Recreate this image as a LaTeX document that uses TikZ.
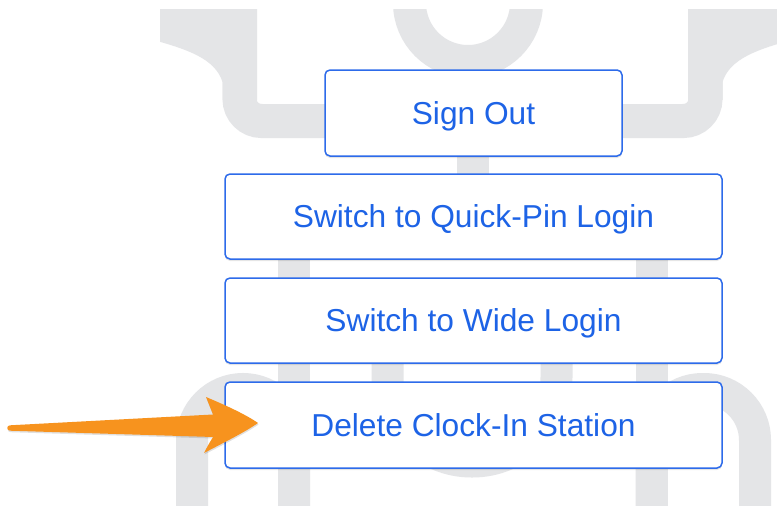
\documentclass[tikz,border=0pt]{standalone}
\usepackage{fontspec}
\setmainfont{Liberation Sans}
\usetikzlibrary{shadows}
\definecolor{patgray}{HTML}{E4E5E7}
\definecolor{btnblue}{HTML}{2D6BEA}
\definecolor{txtblue}{HTML}{1D63E6}
\definecolor{arroworange}{HTML}{F7931E}
\tikzset{
  pat/.style={draw=patgray, line width=34pt},
  patfill/.style={fill=patgray},
  btn/.style={draw=btnblue, line width=1.5pt, fill=white, rounded corners=5pt,
    text=txtblue, font=\fontsize{31.7}{38}\selectfont,
    text height=22.7pt, text depth=0pt, inner sep=0pt, outer sep=0pt,
    drop shadow={shadow xshift=0pt, shadow yshift=-2pt, opacity=0.10, fill=black}},
}
\begin{document}
\begin{tikzpicture}[x=1pt,y=-1pt]
\useasboundingbox (0,0) rectangle (777,506);
\fill[white] (0,0) rectangle (777,506);
% faded background pattern
\begin{scope}
\clip (160,9) rectangle (777,506);
% top-left hook
\draw[pat, rounded corners=22pt] (239.5,0) -- (239.5,121) -- (340,121);
\fill[patfill] (150,0) -- (150,39) .. controls (186,49) and (215,58) .. (222.5,82)
  -- (222.5,100) -- (257,100) -- (257,0) -- cycle;
% top-right hook
\draw[pat, rounded corners=22pt] (705.5,0) -- (705.5,121) -- (605,121);
\fill[patfill] (795,0) -- (795,39) .. controls (759,49) and (730,58) .. (722.5,82)
  -- (722.5,100) -- (688,100) -- (688,0) -- cycle;
% top ring and stem
\draw[pat, line width=33pt] (468,3) circle[radius=58.5pt];
\draw[pat, line width=32pt] (473,140) -- (473,200);
% long legs
\draw[pat, line width=32pt] (294,190) -- (294,510);
\draw[pat, line width=32pt] (651.5,190) -- (651.5,510);
% bottom arches
\draw[pat, line width=32pt, rounded corners=51pt] (192,510) -- (192,389) -- (294,389) -- (294,510);
\draw[pat, line width=32pt, rounded corners=51pt] (755,510) -- (755,389) -- (651.5,389) -- (651.5,510);
\draw[pat, line width=32pt, rounded corners=84pt] (387.5,330) -- (387.5,461.5) -- (556.5,461.5) -- (556.5,330);
\end{scope}
% buttons
\node[btn, minimum width=297pt, minimum height=86pt] (signout) at (473.5,113) {Sign Out};
\node[btn, minimum width=497pt, minimum height=85pt] (quickpin) at (473.5,216.5) {Switch to Quick-Pin Login};
\node[btn, minimum width=497pt, minimum height=85pt] (wide) at (473.5,320.5) {Switch to Wide Login};
\node[btn, minimum width=497pt, minimum height=86pt] (delete) at (473.5,425) {Delete Clock-In Station};
% arrow pointing at the delete button
\coordinate (tail) at (10,428);
\coordinate (tip) at ([xshift=33pt,yshift=2pt]delete.west);
\fill[arroworange, drop shadow={shadow xshift=0.5pt, shadow yshift=-1.5pt, opacity=0.12, fill=black}]
  ([yshift=2.7pt]tail) -- (213,414.5)
  .. controls (210.5,408) and (208,402) .. (206,397)
  .. controls (225,405) and (245,414) .. (tip)
  .. controls (245,432) and (225,442) .. (204,453)
  .. controls (207,447) and (210,442) .. (213,437)
  -- ([yshift=-2.7pt]tail)
  .. controls ([xshift=-3.6pt,yshift=-2.7pt]tail) and ([xshift=-3.6pt,yshift=2.7pt]tail) .. ([yshift=2.7pt]tail) -- cycle;
\end{tikzpicture}
\end{document}
